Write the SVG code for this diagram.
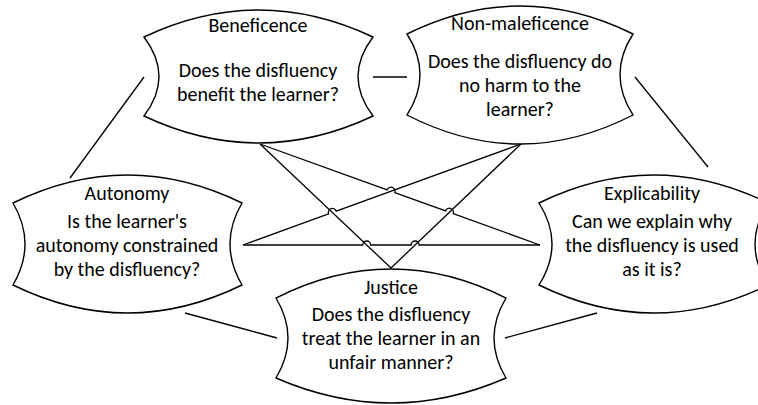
<svg xmlns="http://www.w3.org/2000/svg" width="758" height="405" viewBox="0 0 758 405">
<style>
.shape{fill:#fff;stroke:#000;stroke-width:1.4}
.c{fill:none;stroke:#000;stroke-width:1.3}
text{font-family:Carlito,Lato,sans-serif;font-size:20px;fill:#000;text-anchor:middle}
</style>
<rect width="758" height="405" fill="#fff"/>
<g id="connectors">
<path class="c" d="M144,77 L70,178"/>
<path class="c" d="M373,77 L407,77"/>
<path class="c" d="M635,77 L708,167"/>
<path class="c" d="M185,313 L277,338"/>
<path class="c" d="M505,338 L597,313"/>
<path class="c" d="M260,144 L391,268"/>
<path class="c" d="M521,144 L391,268"/>
<path class="c" d="M243,245 L328.6,213.9 A4,4 0 0 1 336.2,211.1 L521,144"/>
<path class="c" d="M260,144 L387.2,189.8 A4,4 0 0 1 394.8,192.6 L445.6,210.9 A4,4 0 0 1 453.2,213.7 L540,245"/>
<path class="c" d="M243,245 L362.7,245 A4,4 0 0 1 370.7,245 L411.1,245 A4,4 0 0 1 419.1,245 L540,245"/>
</g>
<g id="beneficence">
<path class="shape" d="M144,37 Q258.5,-17 373,37 Q343,76.5 373,116 Q258.5,170 144,116 Q174,76.5 144,37 Z"/>
<text x="258" y="32">Beneficence</text>
<text x="258" y="77">Does the disfluency</text>
<text x="258" y="101">benefit the learner?</text>
</g>
<g id="non-maleficence">
<path class="shape" d="M407,34 Q520,-22 633,34 Q607,74.5 633,115 Q520,173 407,115 Q433,74.5 407,34 Z"/>
<text x="520" y="30">Non-maleficence</text>
<text x="520" y="68">Does the disfluency do</text>
<text x="520" y="92">no harm to the</text>
<text x="520" y="116">learner?</text>
</g>
<g id="autonomy">
<path class="shape" d="M13,203 Q127.5,147 242,203 Q218,244 242,285 Q127.5,341 13,285 Q37,244 13,203 Z"/>
<text x="127" y="200">Autonomy</text>
<text x="127" y="228">Is the learner's</text>
<text x="127" y="252">autonomy constrained</text>
<text x="127" y="276">by the disfluency?</text>
</g>
<g id="explicability">
<path class="shape" d="M539,203 Q653.5,147 768,203 Q742,244 768,285 Q653.5,341 539,285 Q565,244 539,203 Z"/>
<text x="652" y="200">Explicability</text>
<text x="652" y="228">Can we explain why</text>
<text x="652" y="252">the disfluency is used</text>
<text x="652" y="276">as it is?</text>
</g>
<g id="justice">
<path class="shape" d="M276,298 Q391,240 506,298 Q482,338 506,378 Q391,428 276,378 Q300,338 276,298 Z"/>
<text x="391" y="294">Justice</text>
<text x="391" y="321">Does the disfluency</text>
<text x="391" y="345">treat the learner in an</text>
<text x="391" y="369">unfair manner?</text>
</g>
</svg>
